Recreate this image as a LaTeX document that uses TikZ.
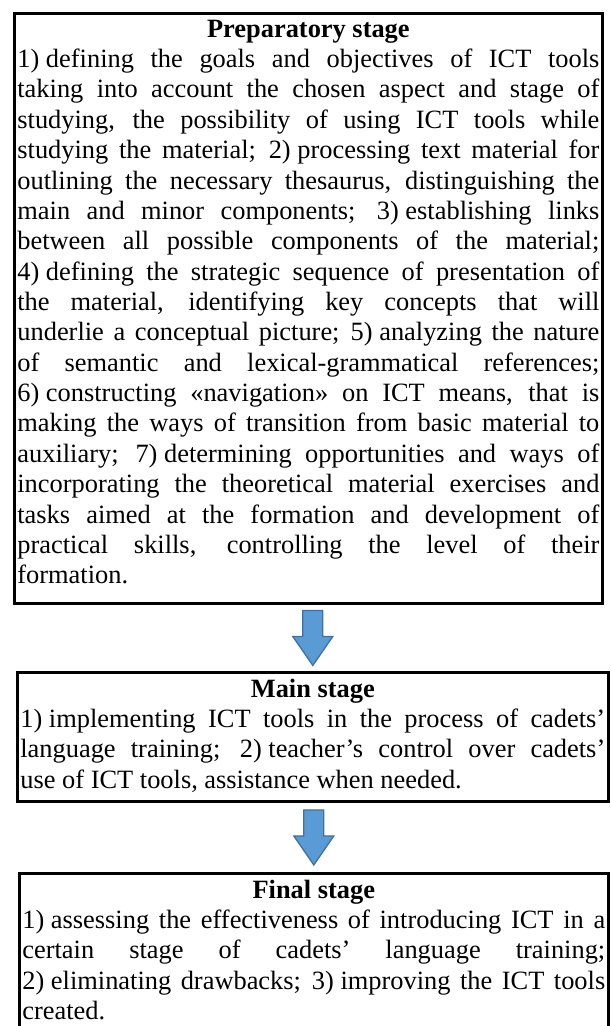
\documentclass[tikz,border=0pt]{standalone}
\usepackage{fontspec}
\setmainfont{Liberation Serif}
\usetikzlibrary{calc}
\definecolor{arrowfill}{HTML}{5B9BD5}
\definecolor{arrowline}{HTML}{41719C}
\newcommand{\itemno}[1]{#1)\hspace{0.25em}}
\tolerance=10000
\hyphenpenalty=10000
\tikzset{
  stagebox/.style={draw,line width=1.2pt,anchor=north west,align=justify,
    inner xsep=1.4pt,inner ysep=3pt,font=\fontsize{12}{13.8}\selectfont},
  blockarrow/.style={draw=arrowline,fill=arrowfill,line width=0.6pt}
}
\begin{document}
\begin{tikzpicture}[x=0.4545pt,y=-0.4545pt]
\useasboundingbox (0,0) rectangle (611,1026);
%\draw[step=50,gray,very thin] (0,0) grid (611,1026);
\node[stagebox,text width=264.5pt] (prep) at (13,12) {{\centering\bfseries Preparatory stage\par}
\itemno{1}defining the goals and objectives of ICT tools\linebreak
taking into account the chosen aspect and stage of\linebreak
studying, the possibility of using ICT tools while\linebreak
studying the material; \itemno{2}processing text material for\linebreak
outlining the necessary thesaurus, distinguishing the\linebreak
main and minor components; \itemno{3}establishing links\linebreak
between all possible components of the material;\linebreak
\itemno{4}defining the strategic sequence of presentation of\linebreak
the material, identifying key concepts that will\linebreak
underlie a conceptual picture; \itemno{5}analyzing the nature\linebreak
of semantic and lexical-grammatical references;\linebreak
\itemno{6}constructing «navigation» on ICT means, that is\linebreak
making the ways of transition from basic material to\linebreak
auxiliary; \itemno{7}determining opportunities and ways of\linebreak
incorporating the theoretical material exercises and\linebreak
tasks aimed at the formation and development of\linebreak
practical skills, controlling the level of their\linebreak
formation.\rule[-6pt]{0pt}{6pt}};

\node[stagebox,text width=265.8pt] (main) at (16,671) {{\centering\bfseries Main stage\par}
\itemno{1}implementing ICT tools in the process of cadets’\linebreak
language training; \itemno{2}teacher’s control over cadets’\linebreak
use of ICT tools, assistance when needed.\rule[-3pt]{0pt}{3pt}};

\node[stagebox,text width=264.9pt] (final) at (18,872) {{\centering\bfseries Final stage\par}
\itemno{1}assessing the effectiveness of introducing ICT in a\linebreak
certain stage of cadets’ language training;\linebreak
\itemno{2}eliminating drawbacks; \itemno{3}improving the ICT tools\linebreak
created.\rule[-6pt]{0pt}{6pt}};

% block arrows between the stages
\foreach \a/\b in {prep/main,main/final}
  \draw[blockarrow] ($(\a.south -| \b.north)!0.5!(\b.north)$) ++(-10,-27.5) -- ++(20,0) -- ++(0,26)
    -- ++(10,0) -- ++(-20,29) -- ++(-20,-29) -- ++(10,0) -- cycle;
\end{tikzpicture}
\end{document}
